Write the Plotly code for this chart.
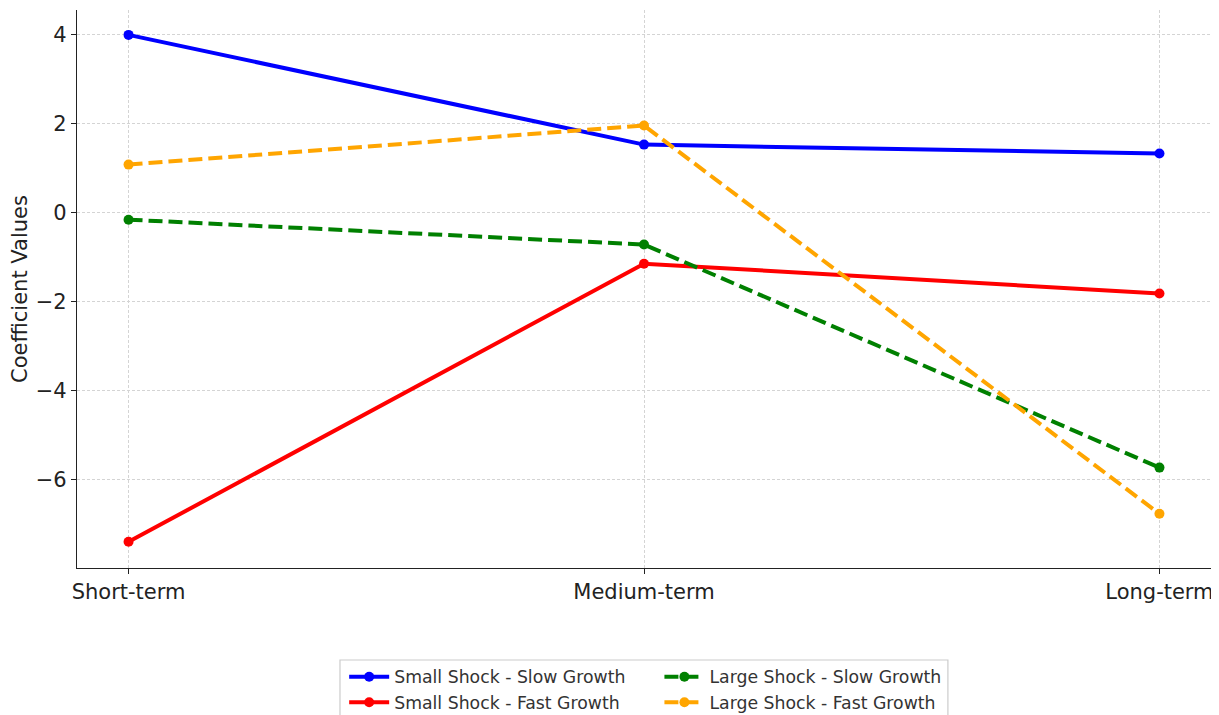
import plotly.graph_objects as go

horizons = ["Short-term", "Medium-term", "Long-term"]

small_slow = [4.00, 1.53, 1.33]
small_fast = [-7.41, -1.15, -1.82]
large_slow = [-0.16, -0.72, -5.74]
large_fast = [1.08, 1.96, -6.78]

# name, values, colour, dash, which legend column
series = [
    ("Small Shock - Slow Growth", small_slow, "blue", "solid", "legend"),
    ("Small Shock - Fast Growth", small_fast, "red", "solid", "legend"),
    ("Large Shock - Slow Growth", large_slow, "green", "14px,6px", "legend2"),
    ("Large Shock - Fast Growth", large_fast, "orange", "14px,6px", "legend2"),
]

fig = go.Figure()
for name, vals, color, dash, leg in series:
    fig.add_trace(go.Scatter(
        x=list(range(len(horizons))),
        y=vals,
        mode="lines+markers",
        name=name,
        legend=leg,
        line=dict(color=color, width=4, dash=dash),
        marker=dict(color=color, size=10),
    ))

leg_style = dict(
    orientation="v",
    yanchor="top",
    y=-0.163,
    bgcolor="rgba(0,0,0,0)",
    borderwidth=0,
    font=dict(size=17.3, color="#333333", family="DejaVu Sans"),
    itemwidth=40,
    tracegroupgap=0,
)

# page body adds an 8px offset, so margins are shifted to compensate
fig.update_layout(
    width=1211,
    height=715,
    paper_bgcolor="white",
    plot_bgcolor="white",
    margin=dict(l=69, r=8, t=2, b=155),
    font=dict(family="DejaVu Sans", color="#222222"),
    showlegend=True,
    legend=dict(x=0.2356, xanchor="left", **leg_style),
    legend2=dict(x=0.5136, xanchor="left", **leg_style),
)

# legend frame around both columns
fig.add_shape(
    type="rect", xref="paper", yref="paper",
    x0=0.2319, x1=0.768, y0=-0.1649, y1=-0.30,
    line=dict(color="#cccccc", width=1.2),
    fillcolor="rgba(255,255,255,0.8)",
    layer="below",
)

fig.update_xaxes(
    tickmode="array",
    tickvals=list(range(len(horizons))),
    ticktext=horizons,
    range=[-0.1, 2.1],
    showline=True, linecolor="#222222", linewidth=1.3,
    ticks="outside", ticklen=5, tickcolor="#222222",
    showgrid=True, gridcolor="#d4d4d4", griddash="3px,2px", gridwidth=1,
    tickfont=dict(size=21),
    zeroline=False,
    automargin=False,
)
fig.update_yaxes(
    range=[-8.0, 4.56],
    tickvals=[-6, -4, -2, 0, 2, 4],
    ticktext=["\u22126", "\u22124", "\u22122", "0", "2", "4"],
    showline=True, linecolor="#222222", linewidth=1.3,
    ticks="outside", ticklen=5, tickcolor="#222222",
    showgrid=True, gridcolor="#d4d4d4", griddash="3px,2px", gridwidth=1,
    tickfont=dict(size=21),
    title=dict(text="Coefficient Values", font=dict(size=21), standoff=14),
    zeroline=False,
    automargin=False,
)

fig.write_html("out.html")
